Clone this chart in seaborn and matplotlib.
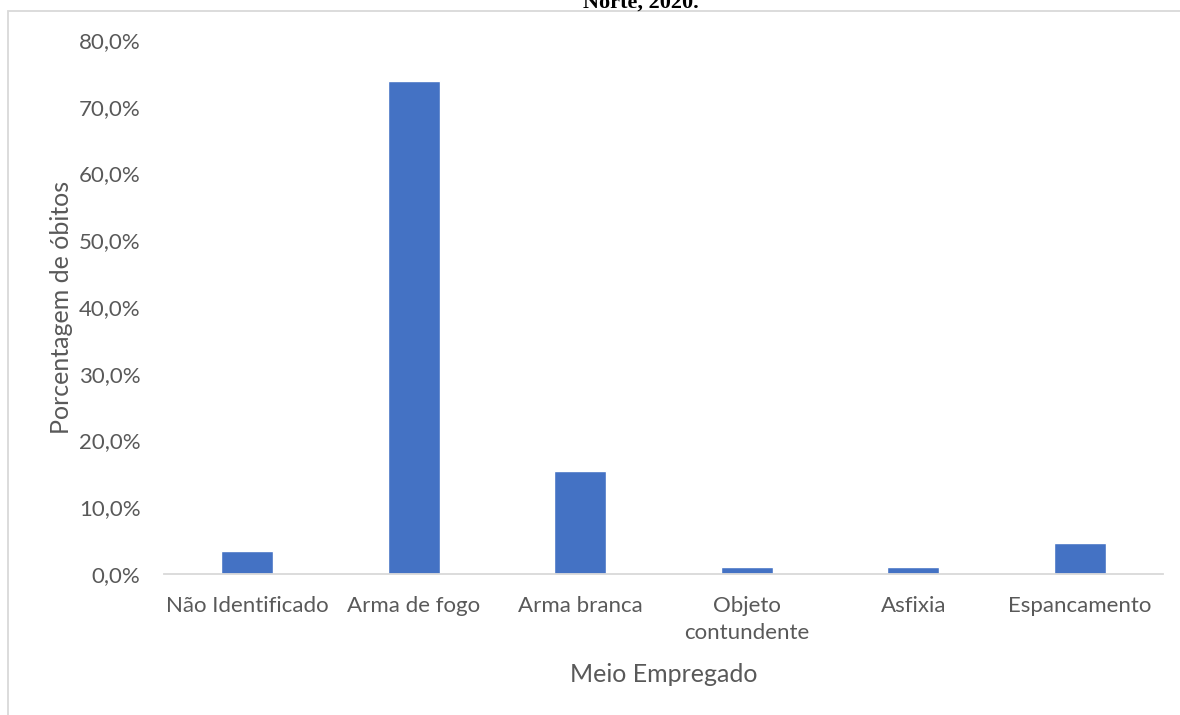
import matplotlib
matplotlib.use("Agg")
import matplotlib.pyplot as plt
import matplotlib.ticker as mticker
from matplotlib.patches import Rectangle
import seaborn as sns
import pandas as pd

categorias = ["Não Identificado", "Arma de fogo", "Arma branca",
              "Objeto\ncontundente", "Asfixia", "Espancamento"]
percentuais = [3.5, 73.9, 15.4, 1.1, 1.1, 4.7]
titulo = "Norte, 2020."
rotulo_x = "Meio Empregado"
rotulo_y = "Porcentagem de óbitos"

df = pd.DataFrame({"cat": categorias, "pct": [p / 100 for p in percentuais]})

sns.set_theme(style="white")
plt.rcParams["font.family"] = ["Lato", "DejaVu Sans"]

fig = plt.figure(figsize=(11.8, 7.15), dpi=100)
ax = fig.add_axes([164 / 1180, 1 - 574 / 715, 999 / 1180, (574 - 40) / 715])

sns.barplot(data=df, x="cat", y="pct", color="#4472C4", width=0.31,
            saturation=1, ax=ax)

ax.set_ylim(0, 0.8)
ax.set_xlim(-0.5, len(categorias) - 0.5)
ax.yaxis.set_major_locator(mticker.MultipleLocator(0.1))
ax.yaxis.set_major_formatter(
    mticker.FuncFormatter(lambda v, p: f"{v*100:.1f}%".replace(".", ",")))

for s in ["top", "right", "left"]:
    ax.spines[s].set_visible(False)
ax.spines["bottom"].set_color("#d9d9d9")
ax.spines["bottom"].set_linewidth(1.3)

ax.tick_params(axis="y", length=0, pad=17, labelsize=16, labelcolor="#595959")
ax.tick_params(axis="x", length=0, pad=16, labelsize=16, labelcolor="#595959")
for lbl in ax.get_xticklabels():
    lbl.set_linespacing(1.45)

ax.set_xlabel(rotulo_x, fontsize=18, color="#595959", labelpad=14)
ax.set_ylabel(rotulo_y, fontsize=18, color="#595959", labelpad=4)

# chart area border (Excel-like)
fig.patches.append(Rectangle((8 / 1180, -0.1), 1.2, 1 - 11 / 715 + 0.1,
                             transform=fig.transFigure, fill=False,
                             edgecolor="#d9d9d9", linewidth=1.3))

fig.text(641 / 1180, 1 - 8 / 715, titulo, ha="center", va="baseline",
         fontsize=16, fontweight="bold", family=["Liberation Serif"], color="black")

fig.savefig("out.png", dpi=100)
